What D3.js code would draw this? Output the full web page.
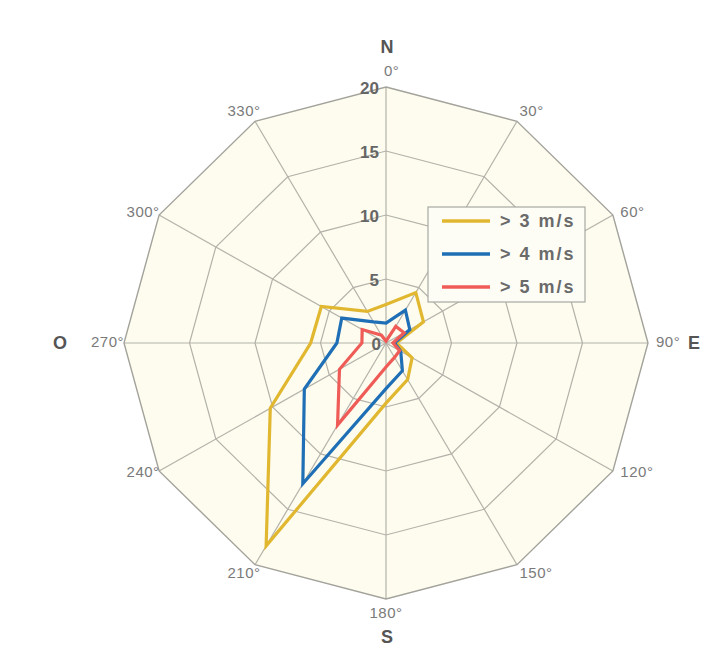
<!DOCTYPE html>
<html>
<head>
<meta charset="utf-8">
<script src="https://cdn.jsdelivr.net/npm/d3@7"></script>
<style>
  html, body { margin: 0; padding: 0; background: #ffffff; }
  svg { display: block; font-family: "Liberation Sans", Arial, sans-serif; }
</style>
</head>
<body>
<svg id="chart" width="703" height="649"></svg>
<script>
// ---- data ----
const directions = [0, 30, 60, 90, 120, 150, 180, 210, 240, 270, 300, 330];
const angleLabels = ["0°", "30°", "60°", "90°", "120°", "150°", "180°", "210°", "240°", "270°", "300°", "330°"];
const ringValues = [5, 10, 15, 20];
const ringLabels = ["5", "10", "15", "20"];
const cardinalLabels = ["N", "E", "S", "O"];
const seriesNames = ["> 3 m/s", "> 4 m/s", "> 5 m/s"];
const above3 = [3.0, 4.55, 3.3, 0.8, 2.3, 3.3, 4.7, 18.3, 10.2, 5.75, 5.7, 2.85];
const above4 = [1.55, 2.96, 2.1, 0.65, 1.3, 2.5, 3.57, 12.7, 7.2, 3.75, 3.9, 1.9];
const above5 = [0.15, 1.5, 1.6, 0.53, 1.2, 1.3, 1.87, 7.4, 4.1, 1.84, 2.1, 0.7];
const seriesColors = ["#e1b730", "#1e6fb5", "#ef5b57"];

// ---- layout ----
const svg = d3.select("#chart");
const cx = 386, cy = 343, Ry = 256, Rx = 262;
const sx = Rx / Ry;
const rad = d => d * Math.PI / 180;
const r = d3.scaleLinear().domain([0, 20]).range([0, Ry]);

const plot = svg.append("g").attr("transform", `translate(${cx},${cy}) scale(${sx},1)`);

const ringLine = d3.lineRadial()
  .angle(d => rad(d.a))
  .radius(d => r(d.v))
  .curve(d3.curveLinearClosed);

// background
plot.append("path")
  .attr("d", ringLine(directions.map(a => ({a, v: 20}))))
  .attr("fill", "#fdfcee")
  .attr("stroke", "none");

// spokes
plot.selectAll("line.spoke").data(directions).join("line")
  .attr("class", "spoke")
  .attr("x1", 0).attr("y1", 0)
  .attr("x2", a => r(20) * Math.sin(rad(a)))
  .attr("y2", a => -r(20) * Math.cos(rad(a)))
  .attr("stroke", "#b3b2aa")
  .attr("stroke-width", 1.2)
  .attr("vector-effect", "non-scaling-stroke");

// rings
plot.selectAll("path.ring").data(ringValues).join("path")
  .attr("class", "ring")
  .attr("d", v => ringLine(directions.map(a => ({a, v}))))
  .attr("fill", "none")
  .attr("stroke", v => v === 20 ? "#a3a29b" : "#b3b2aa")
  .attr("stroke-width", v => v === 20 ? 1.4 : 1.2)
  .attr("vector-effect", "non-scaling-stroke");

// series
const seriesData = [above3, above4, above5];
const seriesLine = d3.lineRadial()
  .angle((d, i) => rad(directions[i]))
  .radius(d => r(d))
  .curve(d3.curveLinearClosed);

plot.selectAll("path.series").data(seriesData).join("path")
  .attr("class", "series")
  .attr("d", d => seriesLine(d))
  .attr("fill", "none")
  .attr("stroke", (d, i) => seriesColors[i])
  .attr("stroke-width", 3.2)
  .attr("stroke-linejoin", "miter")
  .attr("vector-effect", "non-scaling-stroke");

// ring labels
const labels = svg.append("g");
labels.selectAll("text.ringlab").data(ringValues).join("text")
  .attr("class", "ringlab")
  .attr("x", cx - 7)
  .attr("y", v => cy - r(v) + 3)
  .attr("text-anchor", "end")
  .attr("dominant-baseline", "middle")
  .attr("font-size", 17)
  .attr("font-weight", "bold")
  .attr("fill", "#666")
  .text((v, i) => ringLabels[i]);
labels.append("text")
  .attr("x", cx - 5).attr("y", cy + 3)
  .attr("text-anchor", "end")
  .attr("dominant-baseline", "middle")
  .attr("font-size", 17).attr("font-weight", "bold").attr("fill", "#666")
  .text("0");

// angle labels
labels.selectAll("text.anglab").data(directions).join("text")
  .attr("class", "anglab")
  .each(function (a, i) {
    const s = Math.sin(rad(a)), c = Math.cos(rad(a));
    const vx = cx + Rx * s, vy = cy - Ry * c;
    let anchor = "middle", x = vx, y = vy - 15 * c * c * c;
    if (Math.abs(s) > 0.1) {
      anchor = s > 0 ? "start" : "end";
      x = vx + 4 + s * (Math.abs(s) > 0.6 ? 4 : -3);
    } else if (c > 0) {
      anchor = "start"; x = vx - 2;
    }
    d3.select(this)
      .attr("x", x).attr("y", y)
      .attr("text-anchor", anchor)
      .attr("dominant-baseline", "middle")
      .attr("font-size", 15)
      .attr("letter-spacing", 0.5)
      .attr("fill", "#7a7a7a")
      .text(angleLabels[i]);
  });

// cardinal labels
const cardPos = [
  {x: cx + 1, y: 48, anchor: "middle"},
  {x: 688, y: cy + 1, anchor: "start"},
  {x: cx + 1, y: 638, anchor: "middle"},
  {x: 67, y: cy + 1, anchor: "end"}
];
labels.selectAll("text.card").data(cardinalLabels).join("text")
  .attr("class", "card")
  .attr("x", (d, i) => cardPos[i].x)
  .attr("y", (d, i) => cardPos[i].y)
  .attr("text-anchor", (d, i) => cardPos[i].anchor)
  .attr("dominant-baseline", "middle")
  .attr("font-size", 18)
  .attr("font-weight", "bold")
  .attr("fill", "#555")
  .text(d => d);

// legend
const lg = svg.append("g").attr("transform", "translate(428,207)");
lg.append("rect")
  .attr("width", 157).attr("height", 95)
  .attr("fill", "#fdfdf6")
  .attr("stroke", "#a9a9a4")
  .attr("stroke-width", 1.2);
const items = lg.selectAll("g.item").data(seriesNames).join("g")
  .attr("class", "item")
  .attr("transform", (d, i) => `translate(0,${14 + i * 33})`);
items.append("line")
  .attr("x1", 14).attr("x2", 62)
  .attr("stroke", (d, i) => seriesColors[i])
  .attr("stroke-width", 3.5);
items.append("text")
  .attr("x", 72).attr("y", 1)
  .attr("dominant-baseline", "middle")
  .attr("font-size", 18)
  .attr("font-weight", "bold")
  .attr("letter-spacing", 2)
  .attr("fill", "#6a6a6a")
  .text(d => d);
</script>
</body>
</html>
